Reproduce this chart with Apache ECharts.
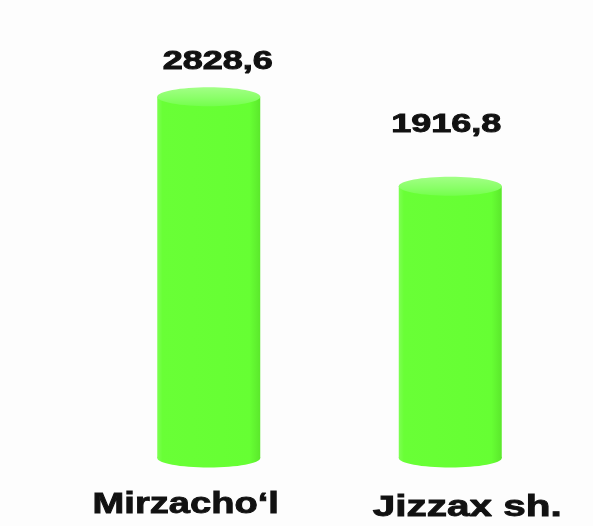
<!DOCTYPE html>
<html>
<head>
<meta charset="utf-8">
<title>ECharts</title>
<script src="https://cdn.jsdelivr.net/npm/echarts@6/dist/echarts.min.js"></script>
<style>
  html, body { margin: 0; padding: 0; background: #fdfdfd; }
  #main { width: 593px; height: 526px; }
</style>
</head>
<body>
<div id="main"></div>
<script type="text/javascript">
// data
var categories = ['Mirzacho\u2018l', 'Jizzax sh.'];
var values = [2828.6, 1916.8];
var valueLabels = ['2828,6', '1916,8'];

// axis range (hidden axis, cylinders stand on the minimum)
var yMin = -850;
var yMax = 3000;

// label placement tweaks, per bar: [dx, dy]
var valueLabelShift = [[9, -35], [-4, -61]];
var catLabelShift = [[-23, 47], [17, 50]];
var catLabelScale = [1.27, 1.35];

var chart = echarts.init(document.getElementById('main'));

function renderCylinder(params, api) {
  var i = params.dataIndex;
  var top = api.coord([api.value(0), api.value(1)]);
  var base = api.coord([api.value(0), yMin]);
  var rx = 51.5, ry = 9.5;
  var cx = top[0];
  var bodyFill = new echarts.graphic.LinearGradient(0, 0, 1, 0, [
    { offset: 0, color: '#7dff52' },
    { offset: 0.05, color: '#69ff36' },
    { offset: 0.9, color: '#66ff33' },
    { offset: 1, color: '#5be82c' }
  ]);
  var topFill = new echarts.graphic.LinearGradient(0, 0, 0, 1, [
    { offset: 0, color: '#a2ff86' },
    { offset: 0.6, color: '#88ff66' },
    { offset: 1, color: '#74ff4c' }
  ]);
  return {
    type: 'group',
    children: [
      {
        type: 'ellipse',
        shape: { cx: cx, cy: base[1], rx: rx, ry: ry },
        style: { fill: bodyFill }
      },
      {
        type: 'rect',
        shape: { x: cx - rx, y: top[1], width: rx * 2, height: base[1] - top[1] },
        style: { fill: bodyFill }
      },
      {
        type: 'ellipse',
        shape: { cx: cx, cy: top[1], rx: rx, ry: ry },
        style: { fill: topFill }
      },
      {
        type: 'text',
        x: cx + valueLabelShift[i][0],
        y: top[1] + valueLabelShift[i][1],
        scaleX: 1.44,
        style: {
          text: valueLabels[i],
          fill: '#111111',
          stroke: '#111111',
          lineWidth: 0.9,
          font: 'bold 25px "Liberation Sans", Arial, sans-serif',
          align: 'center',
          verticalAlign: 'middle'
        }
      },
      {
        type: 'text',
        x: cx + catLabelShift[i][0],
        y: base[1] + catLabelShift[i][1],
        scaleX: catLabelScale[i],
        style: {
          text: categories[i],
          fill: '#111111',
          stroke: '#111111',
          lineWidth: 0.9,
          font: 'bold 30px "Liberation Sans", Arial, sans-serif',
          align: 'center',
          verticalAlign: 'middle'
        }
      }
    ]
  };
}

var option = {
  backgroundColor: '#fdfdfd',
  animation: false,
  grid: { left: 88, right: 22, top: 80, bottom: 68 },
  xAxis: {
    type: 'category',
    data: categories,
    axisLine: { show: false },
    axisTick: { show: false },
    axisLabel: { show: false }
  },
  yAxis: {
    type: 'value',
    min: yMin,
    max: yMax,
    show: false,
    splitLine: { show: false }
  },
  series: [{
    type: 'custom',
    renderItem: renderCylinder,
    clip: false,
    data: values.map(function (v, i) { return [i, v]; })
  }]
};

chart.setOption(option);
</script>
</body>
</html>
